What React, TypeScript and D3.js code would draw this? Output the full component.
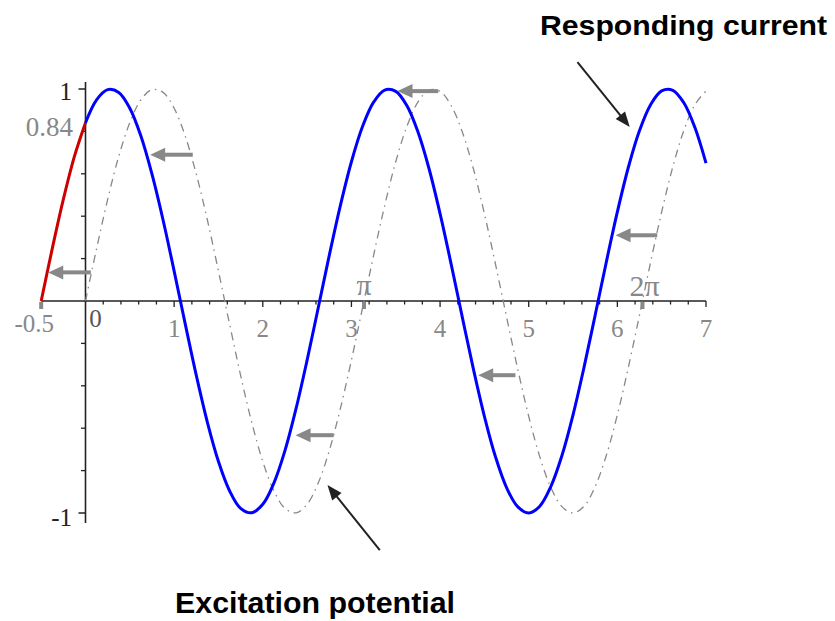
import React from "react";
import * as d3 from "d3";

// sample positions (step 0.125) and values
const redX = [-0.5, -0.375, -0.25, -0.125, 0];
const redY = [0, 0.247, 0.479, 0.682, 0.841];

const blueX = [
  0, 0.125, 0.25, 0.375, 0.5, 0.625, 0.75, 0.875, 1, 1.125, 1.25, 1.375, 1.5, 1.625, 1.75, 1.875,
  2, 2.125, 2.25, 2.375, 2.5, 2.625, 2.75, 2.875, 3, 3.125, 3.25, 3.375, 3.5, 3.625, 3.75, 3.875,
  4, 4.125, 4.25, 4.375, 4.5, 4.625, 4.75, 4.875, 5, 5.125, 5.25, 5.375, 5.5, 5.625, 5.75, 5.875,
  6, 6.125, 6.25, 6.375, 6.5, 6.625, 6.75, 6.875, 7,
];
const blueY = [
  0.841, 0.949, 0.997, 0.984, 0.909, 0.778, 0.598, 0.382, 0.141, -0.108, -0.351, -0.572, -0.757, -0.895, -0.978, -0.999,
  -0.959, -0.859, -0.706, -0.508, -0.279, -0.033, 0.215, 0.45, 0.657, 0.823, 0.938, 0.995, 0.989, 0.922, 0.798, 0.625,
  0.412, 0.174, -0.075, -0.319, -0.544, -0.735, -0.88, -0.97, -1.0, -0.968, -0.875, -0.729, -0.537, -0.311, -0.066, 0.183,
  0.42, 0.632, 0.804, 0.926, 0.991, 0.994, 0.935, 0.818, 0.65,
];

const grayX = [
  0, 0.125, 0.25, 0.375, 0.5, 0.625, 0.75, 0.875, 1, 1.125, 1.25, 1.375, 1.5, 1.625, 1.75, 1.875,
  2, 2.125, 2.25, 2.375, 2.5, 2.625, 2.75, 2.875, 3, 3.125, 3.25, 3.375, 3.5, 3.625, 3.75, 3.875,
  4, 4.125, 4.25, 4.375, 4.5, 4.625, 4.75, 4.875, 5, 5.125, 5.25, 5.375, 5.5, 5.625, 5.75, 5.875,
  6, 6.125, 6.25, 6.375, 6.5, 6.625, 6.75, 6.875, 7,
];
const grayY = [
  0, 0.247, 0.479, 0.682, 0.841, 0.949, 0.997, 0.984, 0.909, 0.778, 0.598, 0.382, 0.141, -0.108, -0.351, -0.572,
  -0.757, -0.895, -0.978, -0.999, -0.959, -0.859, -0.706, -0.508, -0.279, -0.033, 0.215, 0.45, 0.657, 0.823, 0.938, 0.995,
  0.989, 0.922, 0.798, 0.625, 0.412, 0.174, -0.075, -0.319, -0.544, -0.735, -0.88, -0.97, -1.0, -0.968, -0.875, -0.729,
  -0.537, -0.311, -0.066, 0.183, 0.42, 0.632, 0.804, 0.926, 0.991,
];

const xTickLabels = ["1", "2", "3", "4", "5", "6", "7"];
const xTickValues = [1, 2, 3, 4, 5, 6, 7];
const yMinorTicks = [-0.8, -0.6, -0.4, -0.2, 0.2, 0.4, 0.6, 0.8];

// phase-shift arrows: tail on dashed curve, tip on blue curve
const shiftTail = [1.21, 0.06, 2.8, 3.98, 6.45, 4.85];
const shiftTip = [0.73, -0.42, 2.37, 3.52, 5.98, 4.43];
const shiftY = [0.69, 0.135, -0.633, 0.99, 0.31, -0.35];

const W = 835;
const H = 621;

export default function App() {
  const x = d3.scaleLinear().domain([0, 7]).range([85.5, 706]);
  const y = d3.scaleLinear().domain([-1, 1]).range([513, 89]);

  const line = d3
    .line<[number, number]>()
    .x((d) => x(d[0]))
    .y((d) => y(d[1]))
    .curve(d3.curveCatmullRom.alpha(0.5));

  const red = line(redX.map((v, i) => [v, redY[i]] as [number, number])) || "";
  const blue = line(blueX.map((v, i) => [v, blueY[i]] as [number, number])) || "";
  const gray = line(grayX.map((v, i) => [v, grayY[i]] as [number, number])) || "";

  const minorX = d3.range(1, 36).map((i) => i * 0.2);

  const y0 = y(0);
  const serif = "'Liberation Serif', 'DejaVu Serif', serif";
  const sans = "'Liberation Sans', Arial, sans-serif";

  const arrow = (
    x1: number,
    y1: number,
    x2: number,
    y2: number,
    color: string,
    width: number,
    headL: number,
    headW: number,
    key: string
  ) => {
    const dx = x2 - x1;
    const dy = y2 - y1;
    const len = Math.sqrt(dx * dx + dy * dy);
    const ux = dx / len;
    const uy = dy / len;
    const bx = x2 - ux * headL;
    const by = y2 - uy * headL;
    const px = -uy * headW;
    const py = ux * headW;
    return (
      <g key={key}>
        <line x1={x1} y1={y1} x2={bx + ux * 1} y2={by + uy * 1} stroke={color} strokeWidth={width} />
        <polygon points={`${x2},${y2} ${bx + px},${by + py} ${bx - px},${by - py}`} fill={color} />
      </g>
    );
  };

  return (
    <svg width={W} height={H} style={{ position: "absolute", left: 0, top: 0, background: "#fff" }}>
      {/* Axes */}
      <line x1={x(-0.5)} y1={y0} x2={x(7)} y2={y0} stroke="#222" strokeWidth={1.6} />
      <line x1={x(0)} y1={82} x2={x(0)} y2={523} stroke="#222" strokeWidth={1.6} />

      {/* x ticks */}
      {minorX.map((v, i) => {
        const major = Math.abs(v - Math.round(v)) < 1e-6;
        return (
          <line
            key={"xt" + i}
            x1={x(v)}
            x2={x(v)}
            y1={y0}
            y2={y0 + (major ? 6 : 3.5)}
            stroke="#222"
            strokeWidth={1.3}
          />
        );
      })}
      {[-0.5, Math.PI, 2 * Math.PI].map((v, i) => (
        <rect key={"sm" + i} x={x(v) - 2} y={y0 + 1} width={4} height={7} fill="#888" />
      ))}

      {/* y ticks */}
      {yMinorTicks.map((v, i) => (
        <line key={"yt" + i} x1={x(0) - 4.5} x2={x(0)} y1={y(v)} y2={y(v)} stroke="#222" strokeWidth={1.3} />
      ))}
      {[1, -1].map((v, i) => (
        <line key={"ym" + i} x1={x(0) - 7} x2={x(0)} y1={y(v)} y2={y(v)} stroke="#222" strokeWidth={1.5} />
      ))}

      {/* y labels */}
      <text x={72} y={y(1) + 11} fontFamily={serif} fontSize={25} textAnchor="end" fill="#222">1</text>
      <text x={72} y={y(-1) + 13} fontFamily={serif} fontSize={25} textAnchor="end" fill="#222">-1</text>
      <text x={73} y={y(0.84) + 13} fontFamily={serif} fontSize={27} textAnchor="end" fill="#888">0.84</text>

      {/* x labels */}
      <text x={x(-0.5) - 7} y={y0 + 31} fontFamily={serif} fontSize={25} textAnchor="middle" fill="#888">-0.5</text>
      <text x={x(0) + 10} y={y0 + 26} fontFamily={serif} fontSize={25} textAnchor="middle" fill="#555">0</text>
      {xTickValues.map((v, i) => (
        <text key={"xl" + i} x={x(v)} y={y0 + 36} fontFamily={serif} fontSize={25} textAnchor="middle" fill="#888">
          {xTickLabels[i]}
        </text>
      ))}
      <text x={x(Math.PI)} y={y0 - 6} fontFamily={serif} fontSize={30} textAnchor="middle" fill="#888">π</text>
      <text x={x(2 * Math.PI) + 2} y={y0 - 5} fontFamily={serif} fontSize={30} textAnchor="middle" fill="#888">2π</text>

      {/* curves */}
      <path d={gray} fill="none" stroke="#888" strokeWidth={1.3} strokeDasharray="8 5 1.5 5" />
      <path d={red} fill="none" stroke="#cc0000" strokeWidth={3} />
      <path d={blue} fill="none" stroke="#0000ff" strokeWidth={3} strokeLinejoin="round" />

      {/* phase shift arrows */}
      {shiftTail.map((t, i) =>
        arrow(x(t), y(shiftY[i]), x(shiftTip[i]), y(shiftY[i]), "#888", 4, 15, 7, "sa" + i)
      )}

      {/* annotation arrows */}
      {arrow(x(5.55), y(1.127), x(6.14), y(0.821), "#222", 2, 15, 6, "ra")}
      {arrow(x(3.32), y(-1.175), x(2.73), y(-0.868), "#222", 2, 15, 6, "ea")}

      {/* annotation texts */}
      <text x={540} y={35} fontFamily={sans} fontWeight="bold" fontSize={28} textLength={287} lengthAdjust="spacingAndGlyphs" fill="#000">
        Responding current
      </text>
      <text x={175} y={613} fontFamily={sans} fontWeight="bold" fontSize={29} textLength={280} lengthAdjust="spacingAndGlyphs" fill="#000">
        Excitation potential
      </text>
    </svg>
  );
}
